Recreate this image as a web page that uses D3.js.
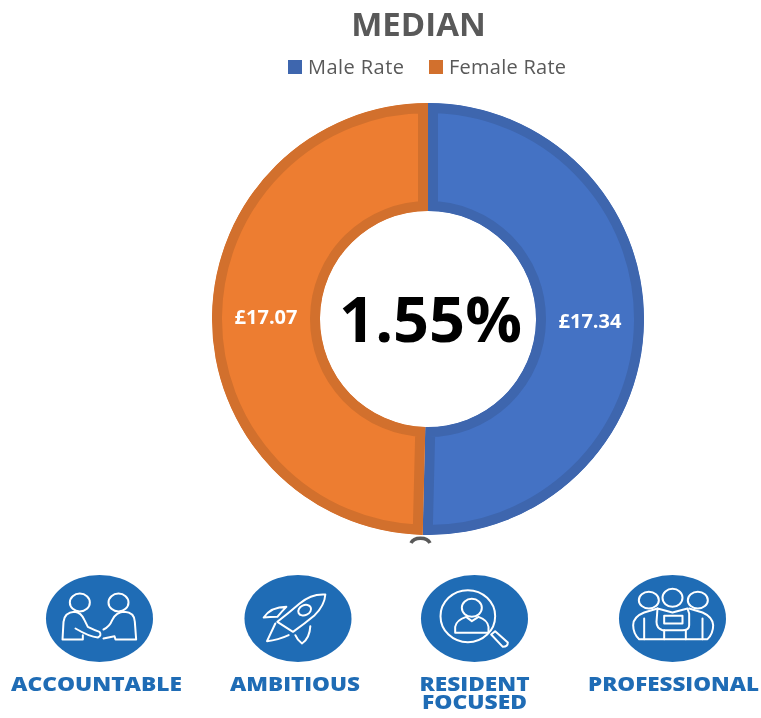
<!DOCTYPE html>
<html>
<head>
<meta charset="utf-8">
<script src="https://cdn.jsdelivr.net/npm/d3@7"></script>
<style>
    html, body { margin: 0; padding: 0; background: #fff; }
    svg { display: block; filter: blur(0.35px); }
    text { font-family: "Open Sans", "Noto Sans", sans-serif; }
    .icon path, .icon ellipse { fill: none; stroke: #fff; stroke-width: 6; stroke-linejoin: round; stroke-linecap: round; }
</style>
</head>
<body>
<svg id="chart" width="761" height="718"></svg>
<script>
var chartTitle = "MEDIAN"
var categories = ["Male Rate", "Female Rate"]
var rates = [17.34, 17.07]
var gapLabel = "1.55%"
var fills = ["#4472c4", "#ed7d31"]
var edges = ["#3e66ae", "#d2702d"]
var values = ["ACCOUNTABLE", "AMBITIOUS", "RESIDENT|FOCUSED", "PROFESSIONAL"]

var svg = d3.select("#chart")
var cx = 428, cy = 319, outer = 216, inner = 108, edge = 10

svg.append("text").attr("x", 418.5).attr("y", 36).attr("text-anchor", "middle")
    .attr("font-size", 33).attr("font-weight", 700).attr("fill", "#595959").text(chartTitle)

// legend
var legendX = [288, 429]
var legend = svg.selectAll(".legend").data(categories).join("g")
    .attr("class", "legend")
    .attr("transform", (d, i) => `translate(${legendX[i]},60)`)
legend.append("rect").attr("width", 14).attr("height", 14).attr("fill", (d, i) => edges[i])
legend.append("text").attr("x", 20).attr("y", 13.5).attr("font-size", 20).attr("fill", "#595959")
    .attr("textLength", (d, i) => i == 0 ? 96 : 117).text(d => d)

// donut, the stroke is doubled and clipped so it only falls inside its own slice
var pie = d3.pie().sort(null)
var arcs = pie(rates)
var arc = d3.arc().innerRadius(inner).outerRadius(outer)
var donut = svg.append("g").attr("transform", `translate(${cx},${cy})`)

donut.selectAll("clipPath").data(arcs).join("clipPath")
    .attr("id", (d, i) => "slice" + i)
    .append("path").attr("d", arc)

donut.selectAll(".slice").data(arcs).join("path")
    .attr("class", "slice")
    .attr("d", arc)
    .attr("clip-path", (d, i) => `url(#slice${i})`)
    .attr("fill", (d, i) => fills[i])
    .attr("stroke", (d, i) => edges[i])
    .attr("stroke-width", edge * 2)

donut.selectAll(".rate").data(arcs).join("text")
    .attr("class", "rate")
    .attr("transform", d => `translate(${arc.centroid(d)})`)
    .attr("text-anchor", "middle").attr("dy", "0.36em")
    .attr("font-size", 20).attr("font-weight", 700).attr("fill", "#fff")
    .text(d => "£" + d.value.toFixed(2))

donut.append("text").attr("x", 2.5).attr("dy", "0.36em").attr("text-anchor", "middle")
    .attr("font-size", 63).attr("font-weight", 700).attr("fill", "#000").text(gapLabel)

// stray bit of a clipped glyph under the donut
svg.append("path").attr("d", "M411,543 A10,7 0 0 1 430,543")
    .attr("fill", "none").attr("stroke", "#595959").attr("stroke-width", 3.5)

// value badges, icon paths are relative to the badge centre at 3x
var iconPaths = [
    [
        "M-111,63 L-108,10 Q-105,-18 -75,-20 Q-55,-18 -45,5 L-35,25 Q-15,35 0,40 Q8,50 -5,57 Q-30,55 -72,30 M-50,50 L-50,63 L-111,63",
        "M12,33 Q30,25 38,5 Q50,-20 75,-20 Q105,-18 106,10 L110,63 L48,63 L45,53 L12,60"
    ],
    [
        "M82,-72 Q40,-75 5,-45 Q-30,-15 -62,10 L-15,40 Q20,15 50,-10 Q80,-40 82,-72 Z",
        "M-103,-3 Q-80,-35 -35,-35 Q-50,-20 -62,-5 Q-85,-5 -103,-3 Z",
        "M-68,15 L-93,68 Q-60,65 -28,50",
        "M37,23 Q35,60 12,75 Q-2,65 -8,50"
    ],
    [
        "M-58,43 L-58,25 Q-55,5 -25,-5 L-8,8 L12,-5 Q40,5 42,25 L42,43 Z",
        "M50,48 L62,38 L100,72 Q100,85 85,85 Z"
    ],
    [
        "M-45,-30 L-85,-18 Q-118,-5 -118,20 Q-118,45 -100,62 L105,62 Q122,45 122,20 Q120,-5 90,-18 L50,-30",
        "M-45,-30 L0,-18 L45,-30 L50,-15 L50,20 Q50,35 30,35 L-30,35 Q-48,30 -48,10 L-45,-30",
        "M-25,-8 L30,-8 L30,15 L-25,15 Z",
        "M-25,62 L-25,35 M40,62 L40,35 M-85,0 L-85,62 M90,0 L90,62"
    ]
]
var iconEllipses = [
    [[-59, -48, 30, 27, 0], [57, -48, 30, 27, 0]],
    [[20, -25, 20, 15, -25]],
    [[-20, -7, 82, 78, 0], [-8, -32, 30, 27, 0]],
    [[-71, -55, 30, 25, 0], [0, -62, 30, 27, 0], [76, -55, 30, 25, 0]]
]
var badgeX = d3.scalePoint().domain(values).range([99.5, 672.5])
var badgeShift = [0, 7.5, -7, 0]
var labelShift = [-3, -3, 0, 1]
var labelWidth = [[171], [130], [110, 105], [171]]

var badge = svg.selectAll(".badge").data(values).join("g")
    .attr("class", "badge")
    .attr("transform", (d, i) => `translate(${badgeX(d) + badgeShift[i]},618.5)`)
badge.append("ellipse").attr("rx", 53.5).attr("ry", 43.5).attr("fill", "#1f6cb5")
var icon = badge.append("g").attr("class", "icon").attr("transform", "scale(0.3333)")
icon.each(function(d, i) {
    var g = d3.select(this)
    iconPaths[i].forEach(p => g.append("path").attr("d", p))
    iconEllipses[i].forEach(e => g.append("ellipse")
        .attr("rx", e[2]).attr("ry", e[3])
        .attr("transform", `translate(${e[0]},${e[1]}) rotate(${e[4]})`))
})
badge.each(function(d, i) {
    d.split("|").forEach((line, k) => d3.select(this).append("text")
        .attr("text-anchor", "middle")
        .attr("x", labelShift[i])
        .attr("y", 72.5 + k * 18)
        .attr("font-size", 20).attr("font-weight", 800).attr("fill", "#1f6cb5")
        .attr("textLength", labelWidth[i][k])
        .attr("lengthAdjust", "spacingAndGlyphs")
        .text(line))
})
</script>
</body>
</html>
